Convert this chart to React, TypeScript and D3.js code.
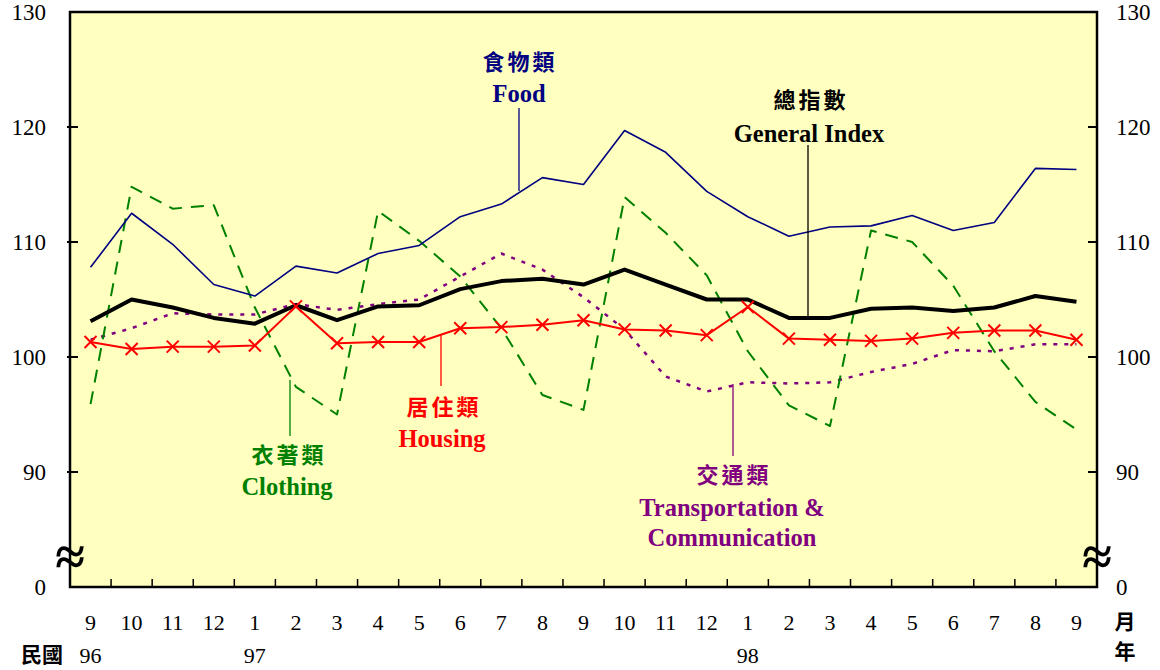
import React from "react"
import * as d3 from "d3"

// 月份 (民國96年9月 ~ 98年9月)
const months = ["9", "10", "11", "12", "1", "2", "3", "4", "5", "6", "7", "8", "9", "10", "11", "12", "1", "2", "3", "4", "5", "6", "7", "8", "9"]
const yearLabels = ["96", "97", "98"]
const yearIndex = [0, 4, 16]

// 指數
const food = [107.8, 112.5, 109.8, 106.3, 105.3, 107.9, 107.3, 109.0, 109.7, 112.2, 113.3, 115.6, 115.0, 119.7, 117.8, 114.4, 112.2, 110.5, 111.3, 111.4, 112.3, 111.0, 111.7, 116.4, 116.3]
const general = [103.1, 105.0, 104.3, 103.4, 102.9, 104.5, 103.2, 104.4, 104.5, 105.9, 106.6, 106.8, 106.3, 107.6, 106.3, 105.0, 105.0, 103.4, 103.4, 104.2, 104.3, 104.0, 104.3, 105.3, 104.8]
const housing = [101.3, 100.7, 100.9, 100.9, 101.0, 104.4, 101.2, 101.3, 101.3, 102.5, 102.6, 102.8, 103.2, 102.4, 102.3, 101.9, 104.35, 101.6, 101.5, 101.4, 101.6, 102.1, 102.3, 102.3, 101.5]
const clothing = [95.9, 114.8, 112.9, 113.2, 104.3, 97.4, 95.0, 112.7, 110.1, 107.0, 102.5, 96.7, 95.4, 113.9, 110.8, 107.1, 100.5, 95.8, 94.0, 111.0, 110.0, 106.2, 100.5, 96.1, 93.7]
const transport = [101.5, 102.5, 103.8, 103.7, 103.7, 104.6, 104.1, 104.6, 105.0, 107.0, 109.0, 107.6, 105.2, 102.4, 98.3, 97.0, 97.8, 97.7, 97.8, 98.7, 99.4, 100.6, 100.5, 101.1, 101.1]

// 縱軸 (80 以下截斷，標示為 0)
const yTickValues = [80, 90, 100, 110, 120, 130]
const yTickLabels = ["0", "90", "100", "110", "120", "130"]

const W = 1160
const H = 670
const margin = { top: 12, right: 63, bottom: 83, left: 70 }

const serif = "'Liberation Serif', 'Times New Roman', serif"
const cjk = "'Noto Sans CJK TC', 'Noto Sans CJK SC', sans-serif"

export default function App() {
  const idx = months.map((_, i) => i)
  const x = d3.scalePoint<number>()
    .domain(idx)
    .range([margin.left, W - margin.right])
    .padding(0.5)
  const y = d3.scaleLinear()
    .domain([80, 130])
    .range([H - margin.bottom, margin.top])

  const x0 = margin.left
  const x1 = W - margin.right
  const yTop = margin.top
  const yBot = H - margin.bottom
  const step = x.step()

  const line = d3.line<number>()
    .x((_, i) => x(i)!)
    .y(d => y(d))

  const series = [
    { data: transport, color: "#800080", width: 2.5, dash: "4,7" },
    { data: clothing, color: "#008000", width: 2, dash: "13,9" },
    { data: food, color: "#000080", width: 1.6, dash: null },
    { data: general, color: "#000000", width: 4, dash: null },
    { data: housing, color: "#FF0000", width: 2, dash: null },
  ]

  const cjkSize = 22
  const enSize = 24.5

  return (
    <svg width={W} height={H} style={{ position: "absolute", left: 0, top: 0, background: "#fff" }}>
      <rect x={x0} y={yTop} width={x1 - x0} height={yBot - yTop} fill="#FFFFC0" />

      {series.map((s, k) => (
        <path key={k} d={line(s.data) || ""} fill="none" stroke={s.color}
          strokeWidth={s.width} strokeDasharray={s.dash || undefined}
          strokeLinejoin="round" />
      ))}

      {/* 居住類 x 標記 */}
      {housing.map((v, i) => {
        const cx = x(i)!
        const cy = y(v)
        const r = 6
        return (
          <path key={i} d={`M${cx - r},${cy - r}L${cx + r},${cy + r}M${cx - r},${cy + r}L${cx + r},${cy - r}`}
            stroke="#FF0000" strokeWidth={2} fill="none" />
        )
      })}

      {/* 框線 */}
      <rect x={x0} y={yTop} width={x1 - x0} height={yBot - yTop} fill="none" stroke="#000" strokeWidth={2.5} />

      {/* 縱軸刻度 */}
      {yTickValues.map((v, i) => (
        <g key={i}>
          {v > 80 && v < 130 && <line x1={x0 - 3} x2={x0 + 8} y1={y(v)} y2={y(v)} stroke="#000" strokeWidth={2} />}
          {v > 80 && v < 130 && <line x1={x1 - 9} x2={x1} y1={y(v)} y2={y(v)} stroke="#000" strokeWidth={2} />}
          <text x={46} y={y(v)} dy="0.35em" textAnchor="end" fontFamily={serif} fontSize={23}>{yTickLabels[i]}</text>
          <text x={1116} y={y(v)} dy="0.35em" textAnchor="start" fontFamily={serif} fontSize={23}>{yTickLabels[i]}</text>
        </g>
      ))}

      {/* 截斷符號 */}
      <text x={x0} y={556} dy="0.35em" textAnchor="middle" fontFamily={serif} fontSize={54} fontWeight="bold">≈</text>
      <text x={x1} y={556} dy="0.35em" textAnchor="middle" fontFamily={serif} fontSize={54} fontWeight="bold">≈</text>

      {/* 橫軸刻度 */}
      {idx.slice(1).map(i => (
        <line key={i} x1={x(i)! - step / 2} x2={x(i)! - step / 2} y1={yBot} y2={yBot - 8} stroke="#000" strokeWidth={1.5} />
      ))}
      {months.map((m, i) => (
        <text key={i} x={x(i)} y={622} dy="0.35em" textAnchor="middle" fontFamily={serif} fontSize={22}>{m}</text>
      ))}
      {yearLabels.map((t, k) => (
        <text key={k} x={x(yearIndex[k])} y={655} dy="0.35em" textAnchor="middle" fontFamily={serif} fontSize={22}>{t}</text>
      ))}
      <text x={42} y={655} dy="0.35em" textAnchor="middle" fontFamily={cjk} fontWeight="bold" fontSize={21}>民國</text>
      <text x={1125} y={622} dy="0.35em" textAnchor="middle" fontFamily={cjk} fontWeight="bold" fontSize={21}>月</text>
      <text x={1125} y={652} dy="0.35em" textAnchor="middle" fontFamily={cjk} fontWeight="bold" fontSize={21}>年</text>

      {/* 說明文字 */}
      <g fontWeight="bold" textAnchor="middle">
        <line x1={519} x2={519} y1={108} y2={191} stroke="#000080" strokeWidth={1.3} />
        <text x={520} y={62} dy="0.35em" fontFamily={cjk} fontSize={cjkSize} fill="#000080" letterSpacing={3}>食物類</text>
        <text x={519} y={93} dy="0.35em" fontFamily={serif} fontSize={enSize} fill="#000080">Food</text>

        <line x1={808} x2={808} y1={145} y2={318} stroke="#000" strokeWidth={1.3} />
        <text x={811} y={100} dy="0.35em" fontFamily={cjk} fontSize={cjkSize} fill="#000" letterSpacing={3}>總指數</text>
        <text x={809} y={133} dy="0.35em" fontFamily={serif} fontSize={enSize} fill="#000">General Index</text>

        <line x1={290} x2={290} y1={380} y2={436} stroke="#008000" strokeWidth={1.3} />
        <text x={289} y={455} dy="0.35em" fontFamily={cjk} fontSize={cjkSize} fill="#008000" letterSpacing={3}>衣著類</text>
        <text x={287} y={486} dy="0.35em" fontFamily={serif} fontSize={enSize} fill="#008000">Clothing</text>

        <line x1={441} x2={441} y1={334} y2={386} stroke="#FF0000" strokeWidth={1.3} />
        <text x={444} y={407} dy="0.35em" fontFamily={cjk} fontSize={cjkSize} fill="#FF0000" letterSpacing={3}>居住類</text>
        <text x={442} y={438} dy="0.35em" fontFamily={serif} fontSize={enSize} fill="#FF0000">Housing</text>

        <line x1={733} x2={733} y1={384} y2={456} stroke="#800080" strokeWidth={1.3} />
        <text x={734} y={475} dy="0.35em" fontFamily={cjk} fontSize={cjkSize} fill="#800080" letterSpacing={3}>交通類</text>
        <text x={732} y={507} dy="0.35em" fontFamily={serif} fontSize={enSize} fill="#800080">Transportation &amp;</text>
        <text x={732} y={537} dy="0.35em" fontFamily={serif} fontSize={enSize} fill="#800080">Communication</text>
      </g>
    </svg>
  )
}
